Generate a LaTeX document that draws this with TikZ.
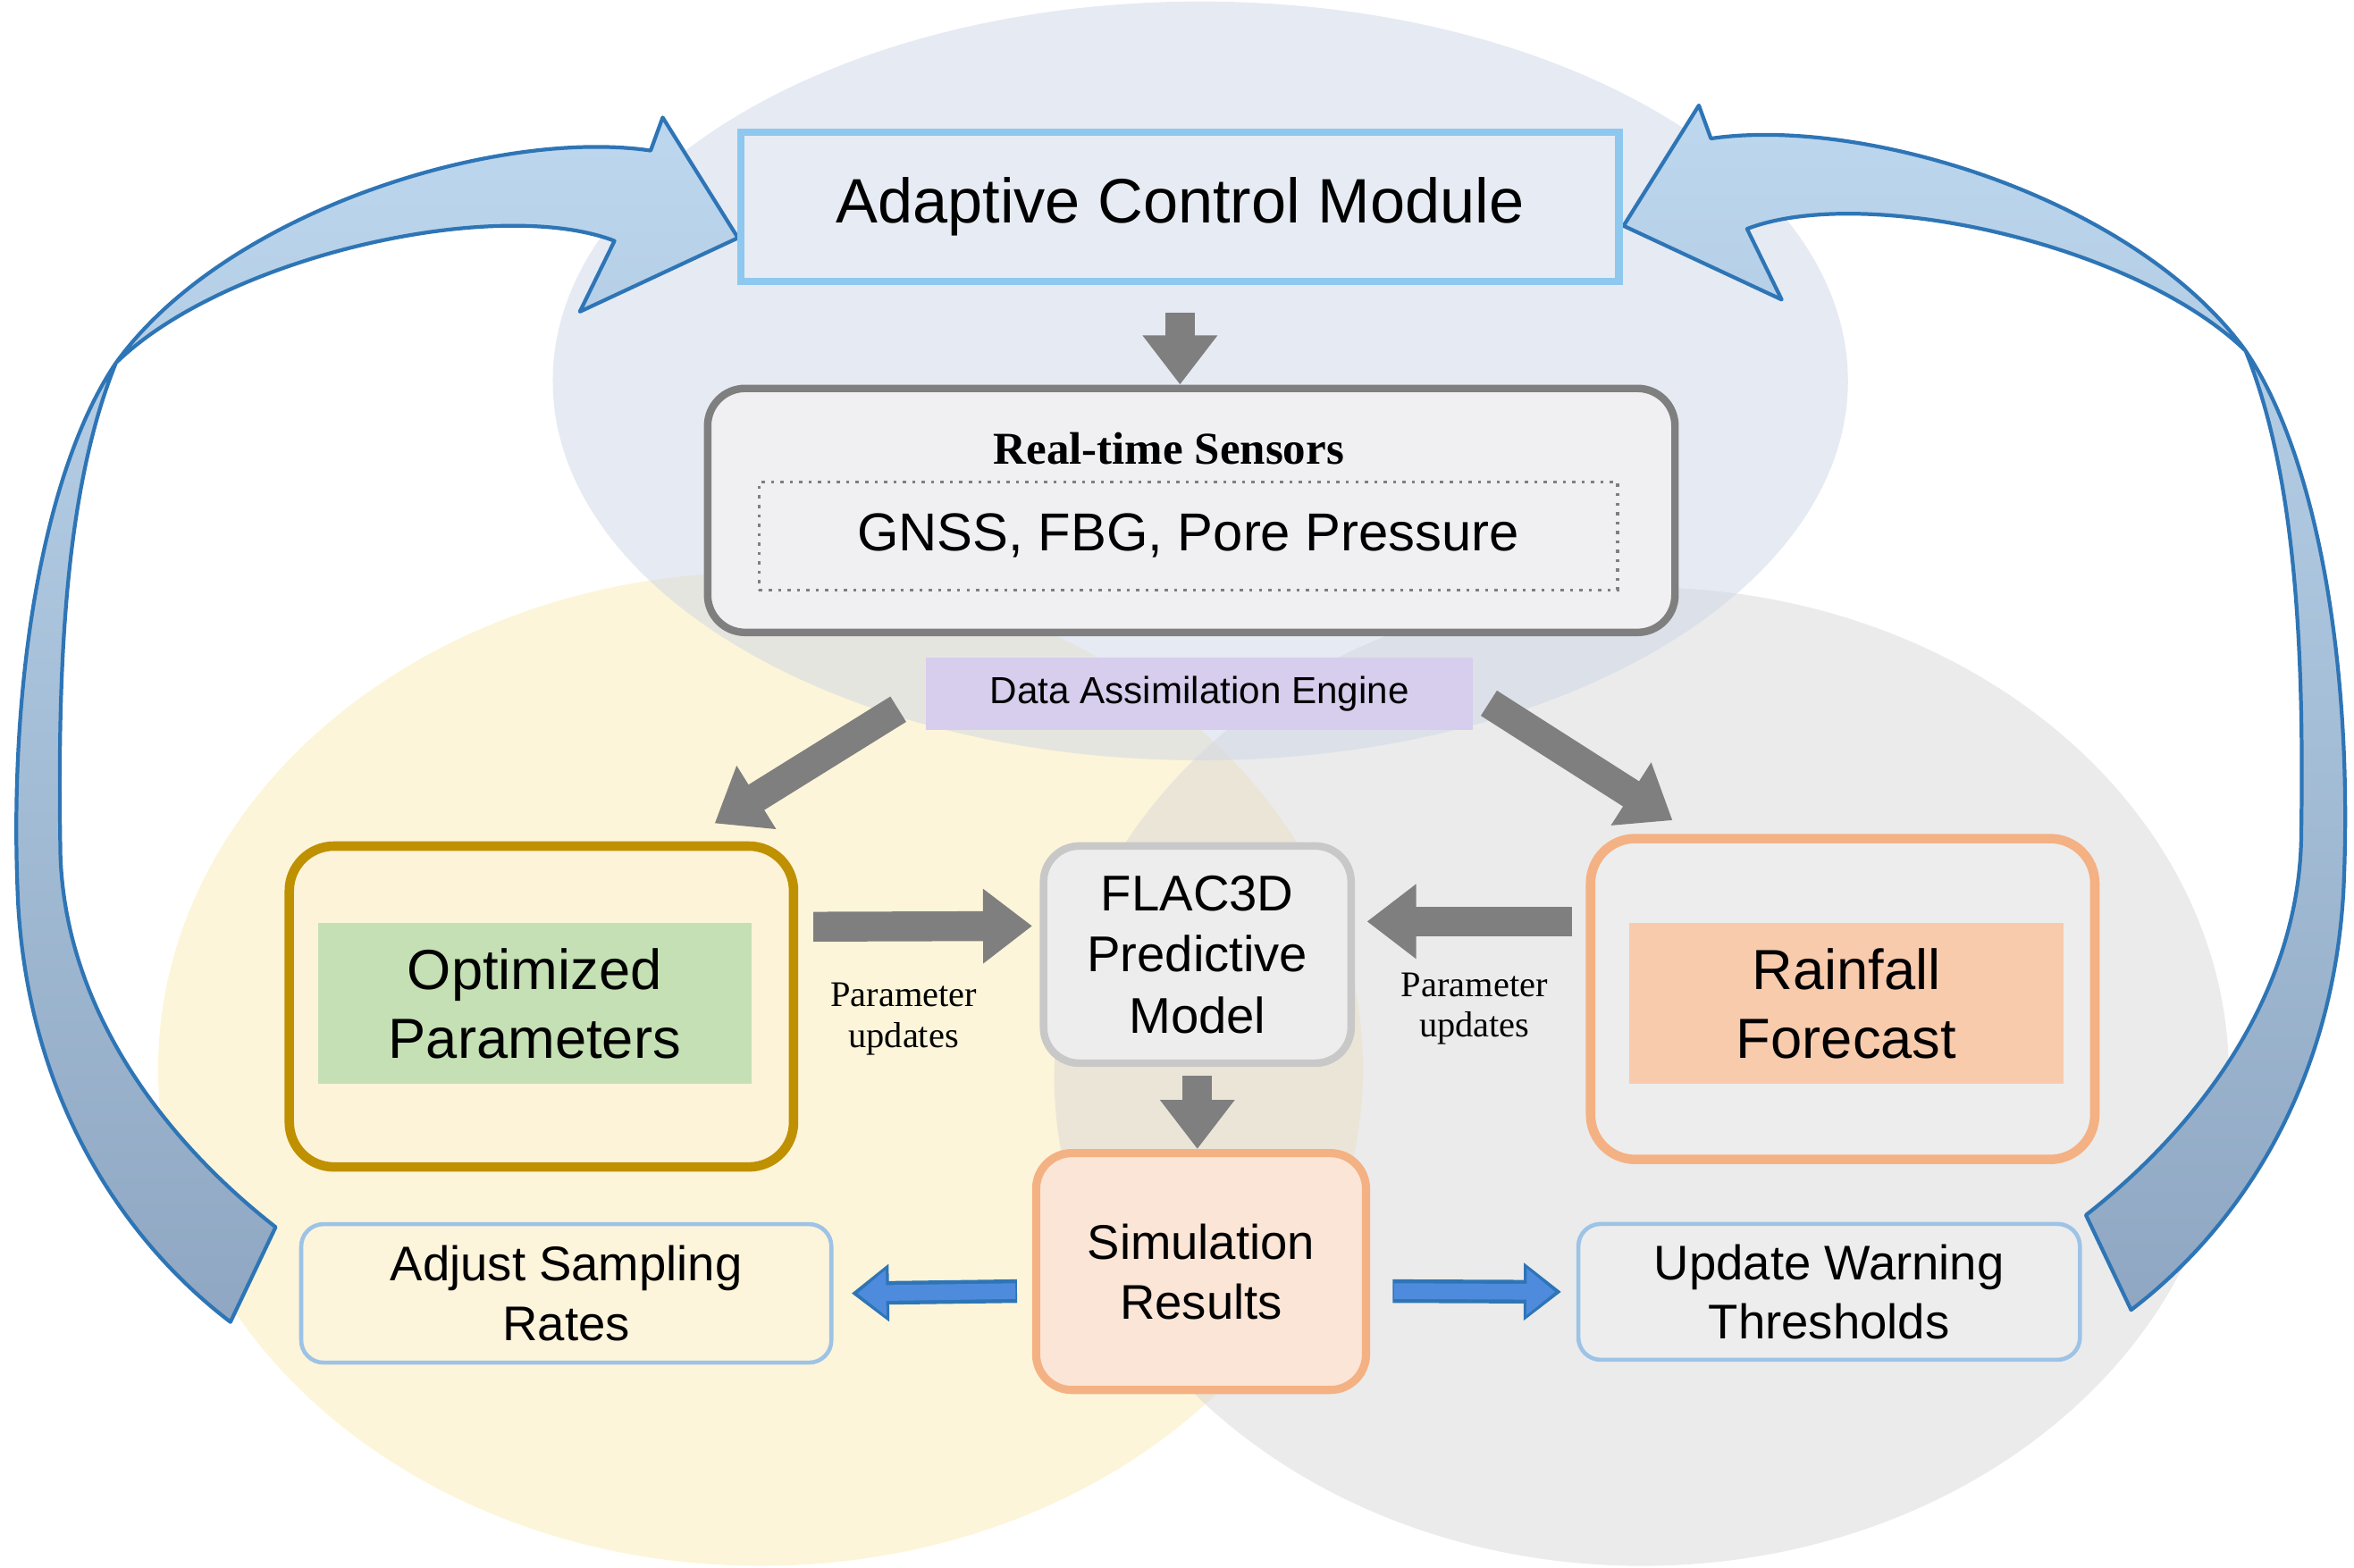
\documentclass[tikz,border=0pt]{standalone}
\usepackage{fontspec}
\setmainfont{Liberation Sans}
\newfontfamily\tnr{Liberation Serif}
\usetikzlibrary{arrows.meta,calc}
\definecolor{acm}{HTML}{8EC8EE}
\definecolor{gy}{HTML}{7F7F7F}
\definecolor{gold}{HTML}{BF9000}
\definecolor{org}{HTML}{F4B183}
\definecolor{lb}{HTML}{9DC3E6}
\definecolor{bar}{HTML}{2E75B6}
\definecolor{bfill}{HTML}{4F8BDD}
\tikzset{
 grar/.style={draw=gy,line width=9.5pt,-{Triangle[length=0.55cm,width=0.8cm]}},
 blo/.style={draw=bar,line width=7.5pt,-{Triangle[length=0.42cm,width=0.62cm]}},
 bli/.style={draw=bfill,line width=5pt,-{Triangle[length=0.32cm,width=0.5cm]}},
 box/.style={align=center,inner sep=0pt},
 lbl/.style={font=\tnr\fontsize{11.5}{13}\selectfont,align=center},
}
\newcommand{\bigarrow}{(490,158) -- (440,78) -- (432,100) .. controls (330,85) and (150,140) .. (77,241)
 .. controls (30,310) and (5,450) .. (12,600) .. controls (20,740) and (90,830) .. (153,878)
 -- (183,815) .. controls (100,750) and (40,660) .. (40,560) .. controls (38,430) and (45,320) .. (77,241)
 .. controls (150,170) and (330,130) .. (408,160) -- (385,207) -- cycle}
\begin{document}
\begin{tikzpicture}[x=0.01685cm,y=-0.01685cm]
\useasboundingbox (0,0) rectangle (1563,1041.4);
% ellipses
\fill[color={rgb,255:red,252;green,236;blue,186},opacity=0.55] (505,710) ellipse (400 and 330);
\fill[color={rgb,255:red,215;green,215;blue,215},opacity=0.5] (1090,715) ellipse (390 and 325);
\fill[color={rgb,255:red,205;green,214;blue,232},opacity=0.5] (797,253) ellipse (430 and 252);
% big arrows
\shade[top color={rgb,255:red,189;green,215;blue,238},bottom color={rgb,255:red,143;green,167;blue,194},draw=bar,line width=1.2pt,line join=round] \bigarrow;
\begin{scope}[shift={(1568,-8)},xscale=-1]
\shade[top color={rgb,255:red,189;green,215;blue,238},bottom color={rgb,255:red,143;green,167;blue,194},draw=bar,line width=1.2pt,line join=round] \bigarrow;
\end{scope}
% nodes
\node[box,draw=acm,line width=2.4pt,fill={rgb,255:red,231;green,236;blue,244},minimum width=9.82cm,minimum height=1.67cm,font=\fontsize{20}{24}\selectfont] (A) at (783.5,137.5) {Adaptive Control Module};
\node[box,draw=gy,line width=2.4pt,rounded corners=0.42cm,fill={rgb,255:red,240;green,240;blue,243},minimum width=10.82cm,minimum height=2.73cm] (S) at (791,339) {};
\node[font=\tnr\bfseries\fontsize{14.5}{17}\selectfont] (St) at (776,298) {Real-time Sensors};
\node[box,draw=gy,dotted,line width=1pt,minimum width=9.6cm,minimum height=1.21cm,font=\fontsize{17}{20}\selectfont] (G) at (789,356) {GNSS, FBG, Pore Pressure};
\node[box,fill={rgb,255:red,215;green,205;blue,236},minimum width=6.12cm,minimum height=0.81cm,font=\fontsize{12}{14}\selectfont] (D) at (796.5,461) {Data Assimilation Engine};
\node[box,draw=gold,line width=3pt,rounded corners=0.5cm,fill={rgb,255:red,253;green,243;blue,217},minimum width=5.64cm,minimum height=3.59cm] (O) at (359.5,668.5) {};
\node[box,fill={rgb,255:red,197;green,224;blue,180},minimum width=4.85cm,minimum height=1.8cm,font=\fontsize{18}{22}\selectfont] (Oi) at (355,666.5) {Optimized\\Parameters};
\node[box,draw={rgb,255:red,200;green,200;blue,200},line width=2.4pt,rounded corners=0.4cm,fill={rgb,255:red,237;green,237;blue,237},minimum width=3.44cm,minimum height=2.43cm,font=\fontsize{16}{19.5}\selectfont] (F) at (795,634) {FLAC3D\\Predictive\\Model};
\node[box,draw=org,line width=3pt,rounded corners=0.5cm,fill={rgb,255:red,237;green,237;blue,237},minimum width=5.64cm,minimum height=3.59cm] (R) at (1223.5,663.5) {};
\node[box,fill={rgb,255:red,248;green,203;blue,173},minimum width=4.85cm,minimum height=1.8cm,font=\fontsize{18}{22}\selectfont] (Ri) at (1226,666.5) {Rainfall\\Forecast};
\node[box,draw=org,line width=2.6pt,rounded corners=0.4cm,fill={rgb,255:red,251;green,229;blue,214},minimum width=3.69cm,minimum height=2.65cm,font=\fontsize{15.5}{19}\selectfont] (Sim) at (797.5,844.5) {Simulation\\Results};
\node[box,draw=lb,line width=1.3pt,rounded corners=0.25cm,fill={rgb,255:red,253;green,244;blue,220},minimum width=5.93cm,minimum height=1.55cm,font=\fontsize{15.5}{19}\selectfont] (Adj) at (376,859) {Adjust Sampling\\Rates};
\node[box,draw=lb,line width=1.3pt,rounded corners=0.25cm,fill={rgb,255:red,237;green,237;blue,237},minimum width=5.61cm,minimum height=1.52cm,font=\fontsize{15.5}{19}\selectfont] (U) at (1214.5,858) {Update Warning\\Thresholds};
\node[lbl] (L1) at (600,677) {Parameter\\updates};
\node[lbl] (L2) at (979,670) {Parameter\\updates};
% grey arrows
\draw[grar] ($(A.south)+(0,18)$) -- (A.south |- S.north);
\draw[grar] ($(D.west)+(-18,10)$) -- ($(O.north)+(115,-12)$);
\draw[grar] ($(D.east)+(10,6)$) -- ($(R.north)+(-113,-9)$);
\draw[grar] ($(O.east)+(10,-53)$) -- ($(F.west)+(-5,-19)$);
\draw[grar] ($(R.west)+(-9,-51.5)$) -- ($(F.east)+(8,-22)$);
\draw[grar] ($(F.south)+(0,6)$) -- (F.south |- Sim.north);
% blue arrows
\draw[blo] ($(Sim.west)+(-10,13)$) -- ($(Adj.east)+(12,0)$);
\draw[bli] ($(Sim.west)+(-11,13)$) -- ($(Adj.east)+(16,0)$);
\draw[blo] ($(Sim.east)+(15,13)$) -- ($(U.west)+(-10,0)$);
\draw[bli] ($(Sim.east)+(16,13)$) -- ($(U.west)+(-14,0)$);
\end{tikzpicture}
\end{document}
